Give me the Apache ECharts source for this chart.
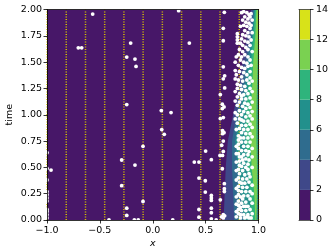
<!DOCTYPE html>
<html><head><meta charset="utf-8">
<style>html,body{margin:0;padding:0;background:#fff}#c{width:333px;height:250px}</style>
<script src="https://cdn.jsdelivr.net/npm/echarts@6/dist/echarts.min.js"></script>
</head><body><div id="c"></div>
<script>
const levels=[0,2,4,6,8,10,12,14];
const levelColors=['#471768','#3f4889','#2f6c8e','#22908c','#2fb47c','#7ad151','#d8e219'];
const timeRows=[0,0.25,0.5,0.75,1,1.25,1.5,1.75,2];
const edge0=[-1,-1,-1,-1,-1,-1,-1,-1,-1];
const edge2=[0.67,0.68,0.69,0.71,0.76,0.81,0.85,0.89,0.93];
const edge4=[0.77,0.76,0.75,0.75,0.79,0.84,0.88,0.92,0.95];
const edge6=[0.86,0.83,0.80,0.78,0.82,0.87,0.90,0.94,0.96];
const edge8=[0.93,0.92,0.90,0.88,0.88,0.90,0.93,0.95,0.97];
const edge10=[0.97,0.96,0.935,0.925,0.925,0.94,0.95,0.97,0.98];
const right2=[1,1,1,1,1,1,1,1,1];
const right4=[0.998,0.998,0.998,0.998,0.998,0.998,0.998,0.998,0.998];
const right6=[0.99,0.995,0.995,0.995,0.995,0.995,0.995,0.995,0.995];
const right8=[0.98,0.99,0.99,0.99,0.99,0.99,0.995,0.995,0.995];
const right10=[0.98,0.985,0.985,0.98,0.98,0.985,0.99,0.995,0.995];
const bands=[[edge0,right2,0],[edge2,right2,1],[edge4,right4,2],[edge6,right6,3],[edge8,right8,4],[edge10,right10,5]];
const startX=[-1,-0.818,-0.636,-0.4545,-0.2727,-0.0909,0.0909,0.2727,0.4545,0.636,0.818,1];
const sparse=[[-0.704,1.636],[-0.672,1.636],[-0.568,1.957],[-0.209,1.681],[-0.246,1.548],[-0.168,1.529],[-0.158,1.459],[-0.246,1.097],[0.081,1.04],[0.085,0.859],[0.109,0.814],[-0.092,0.70],[-0.294,0.57],[-0.168,0.522],[-0.962,0.474],[-0.294,0.326],[-0.092,0.176],[-0.246,0.112],[-0.246,0.043],[0.245,1.989],[0.346,1.681],[0.173,1.021],[0.677,1.973],[0.667,1.821],[0.667,1.703],[0.667,1.455],[0.68,1.37],[0.667,1.341],[0.68,1.255],[0.639,1.192],[0.658,1.10],[0.674,1.074],[0.658,1.059],[0.639,0.964],[0.667,0.973],[0.66,0.85],[0.66,0.82],[0.674,0.83],[0.652,0.71],[0.667,0.75],[0.636,0.614],[0.66,0.614],[0.667,0.652],[0.5,0.655],[0.554,0.573],[0.393,0.55],[0.437,0.55],[0.658,0.487],[0.437,0.398],[0.497,0.373],[0.677,0.345],[0.677,0.297],[0.677,0.271],[0.497,0.265],[0.554,0.233],[0.554,0.208],[0.554,0.186],[0.639,0.192],[0.437,0.10],[0.554,0.112],[0.554,0.069],[0.437,0.027],[0.554,0.011],[0.667,0.05],[0.667,0.02],[0.65,0.03],[0.68,0.04]];
const edgeDots=[[-1,0.02],[-1,0.05],[-1,0.08],[-1,0.10],[-1,0.18],[-1,0.21],[-1,0.24],[-1,0.27],[-1,0.38],[-1,0.49],[-1,0.64],[-0.414,0],[-0.174,0],[-0.137,0],[0.189,0],[0.6,0]];
const dense=[[0.86,1.98],[0.89,1.97],[0.91,1.95],[0.87,1.93],[0.90,1.91],[0.92,1.93],[0.84,1.97],[0.88,1.88],[0.91,1.87],[0.86,1.85],[0.89,1.84],[0.92,1.82],[0.87,1.80],[0.90,1.78],[0.85,1.76],[0.88,1.75],[0.91,1.74],[0.80,1.77],[0.80,1.74],[0.80,1.71],[0.80,1.68],[0.84,1.72],[0.87,1.70],[0.90,1.69],[0.85,1.66],[0.88,1.64],[0.82,1.62],[0.85,1.60],[0.90,1.62],[0.81,1.57],[0.84,1.55],[0.87,1.57],[0.90,1.55],[0.83,1.52],[0.86,1.50],[0.89,1.49],[0.92,1.52],[0.81,1.47],[0.84,1.45],[0.87,1.44],[0.90,1.46],[0.82,1.41],[0.86,1.40],[0.89,1.38],[0.92,1.41],[0.84,1.36],[0.79,1.38],[0.81,1.33],[0.92,1.35],[0.85,1.32],[0.80,1.29],[0.83,1.28],[0.87,1.27],[0.91,1.30],[0.80,1.25],[0.84,1.24],[0.88,1.23],[0.92,1.25],[0.82,1.20],[0.86,1.19],[0.90,1.20],[0.80,1.17],[0.84,1.15],[0.88,1.15],[0.92,1.16],[0.82,1.12],[0.87,1.11],[0.90,1.10],[0.85,1.08],[0.80,1.09],[0.88,1.06],[0.92,1.07],[0.82,1.04],[0.86,1.03],[0.90,1.02],[0.84,1.00],[0.88,0.98],[0.92,0.99],[0.82,0.96],[0.86,0.94],[0.90,0.94],[0.80,0.92],[0.84,0.90],[0.88,0.90],[0.92,0.91],[0.82,0.87],[0.86,0.86],[0.90,0.86],[0.84,0.83],[0.88,0.82],[0.92,0.82],[0.81,0.80],[0.86,0.78],[0.90,0.78],[0.81,0.76],[0.84,0.74],[0.88,0.74],[0.92,0.74],[0.81,0.72],[0.86,0.70],[0.90,0.70],[0.81,0.68],[0.84,0.66],[0.88,0.66],[0.91,0.65],[0.81,0.63],[0.86,0.62],[0.90,0.62],[0.82,0.60],[0.88,0.58],[0.91,0.57],[0.82,0.56],[0.86,0.54],[0.90,0.53],[0.82,0.52],[0.88,0.50],[0.81,0.48],[0.85,0.47],[0.90,0.48],[0.82,0.44],[0.87,0.43],[0.91,0.44],[0.81,0.40],[0.85,0.39],[0.89,0.39],[0.82,0.36],[0.87,0.35],[0.91,0.36],[0.81,0.32],[0.85,0.31],[0.89,0.31],[0.81,0.28],[0.84,0.27],[0.88,0.27],[0.92,0.27],[0.81,0.24],[0.86,0.23],[0.90,0.23],[0.85,0.20],[0.92,0.20],[0.81,0.18],[0.84,0.16],[0.88,0.17],[0.81,0.14],[0.86,0.13],[0.90,0.13],[0.81,0.10],[0.84,0.09],[0.88,0.09],[0.92,0.10],[0.81,0.06],[0.86,0.05],[0.90,0.05],[0.83,0.02],[0.87,0.02],[0.91,0.02]];
const denseExtra=[[0.93,1.96],[0.94,1.90],[0.93,1.85],[0.94,1.78],[0.93,1.71],[0.85,1.90],[0.83,1.84],[0.92,1.66],[0.94,1.60],[0.83,1.68],[0.79,1.55],[0.78,1.50],[0.93,1.47],[0.94,1.32],[0.78,1.42],[0.78,1.34],[0.89,1.33],[0.94,1.22],[0.78,1.22],[0.78,1.13],[0.94,1.12],[0.84,1.18],[0.94,1.03],[0.78,1.02],[0.80,1.00],[0.94,0.96],[0.78,0.96],[0.84,0.95],[0.94,0.88],[0.79,0.86],[0.94,0.79],[0.83,0.78],[0.79,0.70],[0.94,0.68],[0.79,0.63],[0.94,0.60],[0.84,0.60],[0.85,0.57],[0.79,0.55],[0.94,0.50],[0.79,0.47],[0.84,0.51],[0.92,0.41],[0.79,0.38],[0.84,0.35],[0.94,0.33],[0.79,0.30],[0.83,0.22],[0.79,0.22],[0.94,0.25],[0.79,0.15],[0.83,0.12],[0.94,0.16],[0.88,0.13],[0.79,0.08],[0.83,0.05],[0.94,0.06],[0.79,0.03],[0.89,0.03],[0.93,0.02]];
const dots=sparse.concat(edgeDots,dense,denseExtra);
const xTicks=[-1,-0.5,0,0.5,1];
const fnt={fontFamily:'DejaVu Sans',fontSize:9.5,color:'#000'};
const lineBlack={show:true,onZero:false,lineStyle:{color:'#000',width:0.8}};
const tickBlack={show:true,length:3.5,lineStyle:{color:'#000',width:0.8}};
const fmtX=v=>(v<0?'\u2212':'')+Math.abs(v).toFixed(1);
const series=[];
bands.forEach(([L,R,i])=>{
  series.push({type:'custom',xAxisIndex:0,yAxisIndex:0,z:1,silent:true,clip:true,data:[[0,0]],
    renderItem:(p,api)=>{
      const pts=[];
      timeRows.forEach((t,k)=>pts.push(api.coord([L[k],t])));
      for(let k=timeRows.length-1;k>=0;k--)pts.push(api.coord([R[k],timeRows[k]]));
      return {type:'polygon',shape:{points:pts},style:{fill:levelColors[i]}};
    }});
});
startX.forEach(x=>series.push({type:'line',xAxisIndex:0,yAxisIndex:0,z:3,silent:true,symbol:'none',clip:true,
  data:[[x,0],[x,2]],lineStyle:{color:'#d6c200',width:1.5,type:[1,1.5]}}));
series.push({type:'scatter',xAxisIndex:0,yAxisIndex:0,z:4,silent:true,clip:true,symbolSize:3.8,data:dots,itemStyle:{color:'#fff',opacity:1}});
levelColors.forEach((c,i)=>series.push({type:'bar',xAxisIndex:2,yAxisIndex:2,stack:'cb',barWidth:'100%',silent:true,
  data:[levels[i+1]-levels[i]],itemStyle:{color:c}}));
const chart=echarts.init(document.getElementById('c'),null,{renderer:'canvas'});
chart.setOption({animation:false,backgroundColor:'#fff',
  grid:[{left:47,top:9.5,width:211.5,height:210.5,outerBoundsMode:'none'},{left:299,top:9.5,width:11,height:210.5,outerBoundsMode:'none'}],
  xAxis:[
   {gridIndex:0,type:'value',min:-1,max:1,interval:0.5,position:'bottom',z:6,axisLine:lineBlack,splitLine:{show:false},
    axisLabel:{...fnt,margin:5.5,formatter:fmtX,customValues:xTicks},axisTick:{...tickBlack,customValues:xTicks},
    name:'x',nameLocation:'middle',nameGap:19,nameMoveOverlap:false,nameTextStyle:{...fnt,fontStyle:'italic'}},
   {gridIndex:0,type:'value',min:-1,max:1,position:'top',z:6,axisLine:lineBlack,axisTick:{show:false},axisLabel:{show:false},splitLine:{show:false}},
   {gridIndex:1,type:'category',data:['c'],position:'bottom',z:6,axisLine:{...lineBlack,lineStyle:{color:'#333',width:0.8}},axisTick:{show:false},axisLabel:{show:false}},
   {gridIndex:1,type:'category',data:['c'],position:'top',z:6,axisLine:{...lineBlack,lineStyle:{color:'#333',width:0.8}},axisTick:{show:false},axisLabel:{show:false}}
  ],
  yAxis:[
   {gridIndex:0,type:'value',min:0,max:2,interval:0.25,position:'left',z:6,axisLine:lineBlack,axisTick:tickBlack,splitLine:{show:false},
    axisLabel:{...fnt,margin:5,formatter:v=>v.toFixed(2)},
    name:'time',nameLocation:'middle',nameGap:32,nameMoveOverlap:false,nameRotate:90,nameTextStyle:fnt},
   {gridIndex:0,type:'value',min:0,max:2,position:'right',z:6,axisLine:lineBlack,axisTick:{show:false},axisLabel:{show:false},splitLine:{show:false}},
   {gridIndex:1,type:'value',min:0,max:14,interval:2,position:'right',z:6,axisLine:{...lineBlack,lineStyle:{color:'#333',width:0.8}},axisTick:tickBlack,splitLine:{show:false},
    axisLabel:{...fnt,margin:6}},
   {gridIndex:1,type:'value',min:0,max:14,position:'left',z:6,axisLine:{...lineBlack,lineStyle:{color:'#333',width:0.8}},axisTick:{show:false},axisLabel:{show:false},splitLine:{show:false}}
  ],
  series});
</script></body></html>
